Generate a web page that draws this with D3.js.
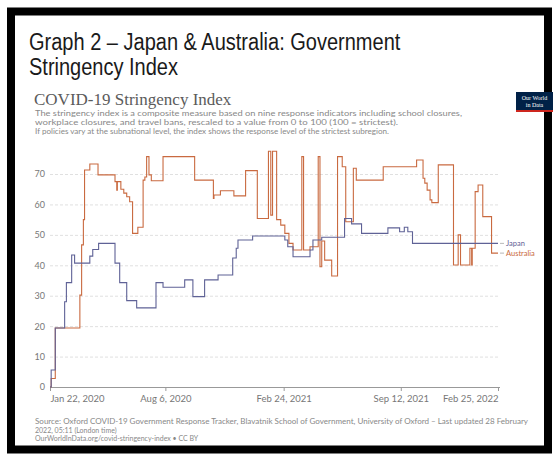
<!DOCTYPE html>
<html>
<head>
<meta charset="utf-8">
<script src="https://cdn.jsdelivr.net/npm/d3@7"></script>
<style>
  body { margin: 0; background: #fff; }
  svg { display: block; }
</style>
</head>
<body>
<svg id="chart" width="555" height="457"></svg>
<script>
// step change points (date the value starts, value)
const japanDates = ["2020-01-22","2020-01-24","2020-01-31","2020-02-16","2020-02-19","2020-02-28","2020-03-04","2020-03-30","2020-04-04","2020-04-14",
  "2020-05-12","2020-05-20","2020-06-01","2020-06-18","2020-07-21","2020-08-02","2020-09-08","2020-09-22","2020-10-12","2020-11-04",
  "2020-11-29","2020-12-05","2020-12-08","2021-01-02","2021-02-26","2021-03-03","2021-03-12","2021-04-10","2021-04-15","2021-04-30",
  "2021-06-08","2021-06-20","2021-07-07","2021-08-21","2021-09-10","2021-09-18","2021-09-24","2021-10-02","2022-02-25"];
const japanValues = [0,5.6,19.4,28,34.3,43.4,40.7,43,45.2,47.2,
  40.7,34.3,28.4,26,34.3,32.8,35.2,29.7,35.2,36.8,
  42.4,45.6,48.3,49.6,48.3,46.1,42.8,45,48.3,49.2,
  55.4,53.6,50.5,52.3,51,52.5,51,47.2,47.2];

const ausDates = ["2020-01-22","2020-01-24","2020-01-31","2020-03-13","2020-03-16","2020-03-19","2020-03-21","2020-03-30","2020-04-13","2020-05-12",
  "2020-05-15","2020-05-16","2020-05-22","2020-05-27","2020-06-01","2020-06-06","2020-06-11","2020-06-20","2020-06-29","2020-07-02",
  "2020-07-05","2020-07-09","2020-07-13","2020-08-02","2020-09-25","2020-10-27","2020-10-28","2020-11-08","2020-12-01","2020-12-21",
  "2021-01-10","2021-01-29","2021-02-02","2021-02-05","2021-02-12","2021-02-19","2021-02-26","2021-03-05","2021-03-12","2021-03-27",
  "2021-03-30","2021-04-10","2021-04-24","2021-04-27","2021-04-30","2021-05-05","2021-05-17","2021-05-27","2021-06-04","2021-06-10",
  "2021-06-23","2021-06-28","2021-08-13","2021-10-09","2021-10-20","2021-10-23","2021-10-27","2021-11-01","2021-11-04","2021-11-15",
  "2021-12-11","2021-12-19","2021-12-23","2022-01-08","2022-01-11","2022-01-12","2022-01-17","2022-01-22","2022-01-30","2022-02-14",
  "2022-02-25"];
const ausValues = [0,2.8,19.4,30.2,46.7,55,71.3,73.3,69.7,67.5,
  64.7,67.5,65,63.7,62.5,60.9,50.5,52.5,68,69,
  75.7,69.7,67.8,75.7,68,62,63.1,64.5,62.8,71.1,
  55.4,77.5,56.5,77.5,55,53.2,50.5,47.2,45,75.7,
  45,46.1,75.7,39.5,48,41.7,36.5,75.7,72.4,54.3,
  71.9,68,72.4,74.6,68.6,67,64.7,61.5,60.6,73,
  40.1,50,40.1,45.6,40.1,45.6,64.2,66.4,56,44,
  44];

const yTicks = [0, 10, 20, 30, 40, 50, 60, 70];
const xTickDates = ["2020-01-22", "2020-08-06", "2021-02-24", "2021-09-12", "2022-02-25"];
const xTickLabels = ["Jan 22, 2020", "Aug 6, 2020", "Feb 24, 2021", "Sep 12, 2021", "Feb 25, 2022"];
const seriesNames = ["Japan", "Australia"];

const japanColor = "#5f6296";
const ausColor = "#c96a40";

const parse = d3.utcParse("%Y-%m-%d");
const svg = d3.select("#chart");

// black frame round the whole picture
svg.append("rect")
    .attr("x", 11).attr("y", 11.5)
    .attr("width", 537).attr("height", 438)
    .attr("fill", "none")
    .attr("stroke", "#000")
    .attr("stroke-width", 8);

// heading of the document
const title = svg.append("g").attr("transform", "translate(29,50) scale(0.87,1)");
title.append("text").attr("y", 0).text("Graph 2 – Japan & Australia: Government");
title.append("text").attr("y", 25).text("Stringency Index");
title.selectAll("text")
    .style("font-family", "'Liberation Sans', Arial, sans-serif")
    .style("font-size", "23px")
    .style("fill", "#1a1a1a");

// owid chart title + subtitle
svg.append("text")
    .attr("x", 34).attr("y", 105)
    .style("font-family", "'Liberation Serif', 'DejaVu Serif', serif")
    .style("font-size", "17px")
    .style("fill", "#5b5b5b")
    .text("COVID-19 Stringency Index");

const subLines = [
    "The stringency index is a composite measure based on nine response indicators including school closures,",
    "workplace closures, and travel bans, rescaled to a value from 0 to 100 (100 = strictest).",
    " If policies vary at the subnational level, the index shows the response level of the strictest subregion."
];
const subWidths = [427, 363, 354];
svg.selectAll(".sub")
    .data(subLines)
    .join("text")
    .attr("class", "sub")
    .attr("x", 35)
    .attr("y", (d, i) => 116 + i * 9)
    .attr("textLength", (d, i) => subWidths[i])
    .attr("lengthAdjust", "spacingAndGlyphs")
    .style("font-family", "Lato, sans-serif")
    .style("font-size", "8px")
    .style("fill", "#888")
    .text(d => d);

// logo box
const logo = svg.append("g").attr("transform", "translate(516,92)");
logo.append("rect").attr("width", 37).attr("height", 20).attr("fill", "#002147");
logo.append("rect").attr("y", 18).attr("width", 37).attr("height", 2).attr("fill", "#ce261e");
logo.append("text").attr("x", 18.5).attr("y", 8).text("Our World");
logo.append("text").attr("x", 18.5).attr("y", 15).text("in Data");
logo.selectAll("text")
    .attr("text-anchor", "middle")
    .style("font-family", "'Liberation Serif', serif")
    .style("font-size", "6px")
    .style("fill", "#fff");

// plot area
const x = d3.scaleUtc()
    .domain([parse("2020-01-22"), parse("2022-02-25")])
    .range([50, 498]);
const y = d3.scaleLinear()
    .domain([0, 70])
    .range([387, 174]);

// y grid (dashed) with labels
const yAxis = svg.append("g")
    .attr("transform", "translate(50,0)")
    .call(d3.axisLeft(y).tickValues(yTicks).tickSize(-450).tickFormat(d3.format("d")))
    .call(g => g.select(".domain").remove())
    .call(g => g.selectAll("line")
        .attr("stroke", "#e0e0e0")
        .attr("stroke-dasharray", "3,2"))
    .call(g => g.selectAll("text")
        .attr("x", -5)
        .style("font-family", "Lato, sans-serif")
        .style("font-size", "9px")
        .style("fill", "#777"));
yAxis.selectAll(".tick").filter(d => d === 0).select("line").remove();

// x axis
const xAxis = svg.append("g")
    .attr("transform", "translate(0,387)")
    .call(d3.axisBottom(x)
        .tickValues(xTickDates.map(parse))
        .tickSize(4)
        .tickFormat((d, i) => xTickLabels[i]))
    .call(g => g.select(".domain").attr("stroke", "#999").attr("d", "M50,0.5H500"))
    .call(g => g.selectAll("line").attr("stroke", "#999"))
    .call(g => g.selectAll("text")
        .attr("y", 8)
        .style("font-family", "Lato, sans-serif")
        .style("font-size", "9.5px")
        .style("fill", "#777"));
xAxis.selectAll("text")
    .attr("text-anchor", (d, i) => i === 0 ? "start" : (i === xTickDates.length - 1 ? "end" : "middle"));

// the two step lines
const stepLine = d3.line()
    .x(d => x(d.date))
    .y(d => y(d.value))
    .curve(d3.curveStepAfter);

const japan = japanDates.map((d, i) => ({ date: parse(d), value: japanValues[i] }));
const aus = ausDates.map((d, i) => ({ date: parse(d), value: ausValues[i] }));

svg.append("path")
    .datum(aus)
    .attr("fill", "none")
    .attr("stroke", ausColor)
    .attr("stroke-width", 1.1)
    .attr("d", stepLine);

svg.append("path")
    .datum(japan)
    .attr("fill", "none")
    .attr("stroke", japanColor)
    .attr("stroke-width", 1.1)
    .attr("d", stepLine);

// end labels with little connectors
const lastVals = [japanValues[japanValues.length - 1], ausValues[ausValues.length - 1]];
const colors = [japanColor, ausColor];
seriesNames.forEach((name, i) => {
    const yy = y(lastVals[i]);
    svg.append("line")
        .attr("x1", 500).attr("x2", 504)
        .attr("y1", yy).attr("y2", yy)
        .attr("stroke", "#999").attr("stroke-width", 0.7);
    svg.append("text")
        .attr("x", 506).attr("y", yy + 2.5)
        .style("font-family", "Lato, sans-serif")
        .style("font-size", "7.5px")
        .style("fill", colors[i])
        .text(name);
});

// source notes
const notes = [
    "Source: Oxford COVID-19 Government Response Tracker, Blavatnik School of Government, University of Oxford – Last updated 28 February",
    "2022, 05:11 (London time)",
    "OurWorldInData.org/covid-stringency-index • CC BY"
];
const noteWidths = [493, null, null];
svg.selectAll(".note")
    .data(notes)
    .join("text")
    .attr("class", "note")
    .attr("x", 35)
    .attr("y", (d, i) => 424 + i * 8.5)
    .attr("textLength", (d, i) => noteWidths[i])
    .attr("lengthAdjust", "spacingAndGlyphs")
    .style("font-family", "Lato, sans-serif")
    .style("font-size", "7px")
    .style("fill", "#888")
    .text(d => d);
</script>
</body>
</html>
